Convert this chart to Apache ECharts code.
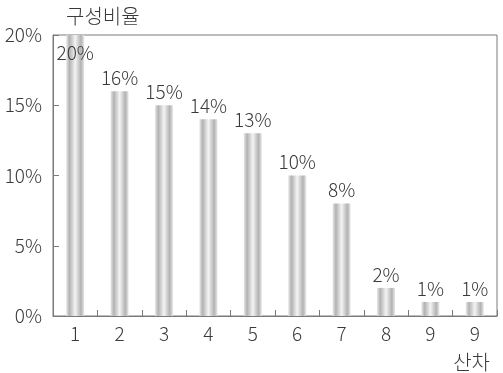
<!DOCTYPE html>
<html>
<head>
<meta charset="utf-8">
<script src="https://cdn.jsdelivr.net/npm/echarts@6/dist/echarts.min.js"></script>
<style>
  html, body { margin: 0; padding: 0; background: #fff; }
  #chart { width: 503px; height: 373px; }
</style>
</head>
<body>
<div id="chart"></div>
<script>
// 산차별 구성비율 (%)
const parities = ['1', '2', '3', '4', '5', '6', '7', '8', '9', '9'];
const shares = [20, 16, 15, 14, 13, 10, 8, 2, 1, 1];
const yTicks = [0, 5, 10, 15, 20];

const FONT = '"Noto Sans CJK KR", "Noto Sans", sans-serif';
const TEXT = '#3a3a3a';

// cylinder-like shading across each bar
const barFill = {
  type: 'linear', x: 0, y: 0, x2: 1, y2: 0,
  colorStops: [
    { offset: 0, color: '#e8e8e8' },
    { offset: 0.18, color: '#b2b2b2' },
    { offset: 0.5, color: '#f4f4f4' },
    { offset: 0.82, color: '#b2b2b2' },
    { offset: 1, color: '#e8e8e8' }
  ]
};

const barData = shares.map((v, i) => i === 0
  ? { value: v, label: { position: 'insideTop', distance: 8 } }
  : v);

const chart = echarts.init(document.getElementById('chart'), null, { renderer: 'canvas' });
chart.setOption({
  animation: false,
  backgroundColor: '#fff',
  grid: {
    left: 53, right: 6, top: 35, bottom: 57,
    show: true, borderColor: '#7a7a7a', borderWidth: 1
  },
  xAxis: {
    type: 'category',
    data: parities,
    name: '산차',
    nameLocation: 'end',
    nameGap: 0,
    nameTextStyle: {
      fontFamily: FONT, fontSize: 20, fontWeight: 300, color: TEXT,
      align: 'right', verticalAlign: 'top', padding: [36, 7, 0, 0]
    },
    axisLine: { lineStyle: { color: '#7a7a7a' } },
    axisTick: { show: true, inside: true, length: 6, lineStyle: { color: '#7a7a7a' } },
    axisLabel: { fontFamily: FONT, fontSize: 19, fontWeight: 300, color: TEXT, margin: 8 },
    splitLine: { show: false }
  },
  yAxis: {
    type: 'value',
    min: yTicks[0],
    max: yTicks[yTicks.length - 1],
    interval: yTicks[1] - yTicks[0],
    name: '구성비율',
    nameLocation: 'end',
    nameGap: 9,
    nameTextStyle: {
      fontFamily: FONT, fontSize: 20, fontWeight: 300, color: TEXT,
      align: 'left', padding: [0, 0, 0, 13]
    },
    axisLine: { show: true, lineStyle: { color: '#7a7a7a' } },
    axisTick: { show: true, inside: true, length: 6, lineStyle: { color: '#7a7a7a' } },
    axisLabel: {
      fontFamily: FONT, fontSize: 19, fontWeight: 300, color: TEXT, margin: 11,
      formatter: v => v + '%'
    },
    splitLine: { show: false }
  },
  series: [{
    type: 'bar',
    data: barData,
    barWidth: 18,
    itemStyle: { color: barFill },
    label: {
      show: true,
      position: 'top',
      distance: 4,
      fontFamily: FONT, fontSize: 19, fontWeight: 300, color: TEXT,
      formatter: p => p.value + '%'
    }
  }]
});
</script>
</body>
</html>
